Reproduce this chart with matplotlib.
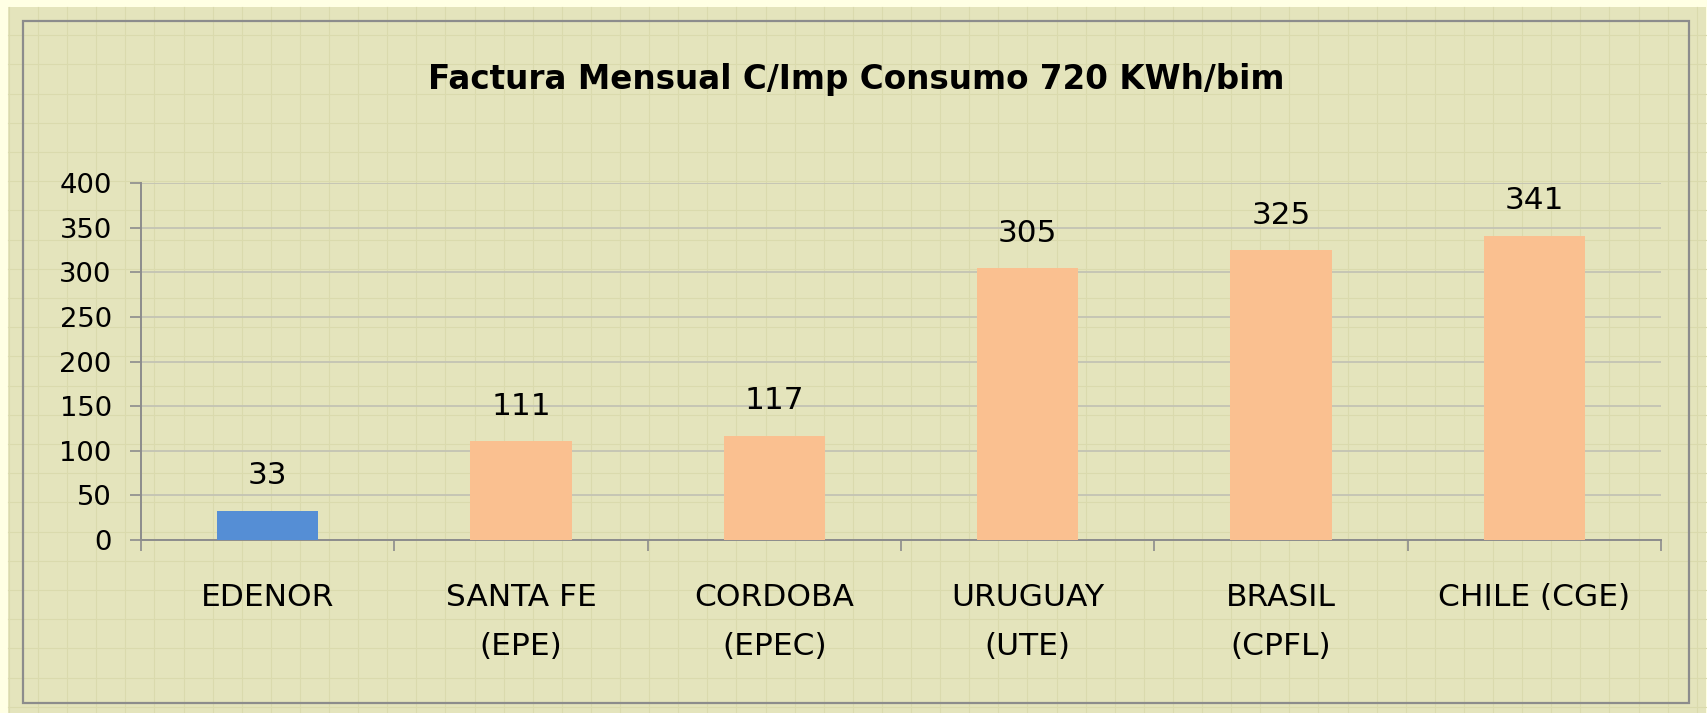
import matplotlib.pyplot as plt
import numpy as np
from matplotlib.patches import Rectangle
from matplotlib.lines import Line2D

# data
categories = ["EDENOR", "SANTA FE\n(EPE)", "CORDOBA\n(EPEC)", "URUGUAY\n(UTE)",
              "BRASIL\n(CPFL)", "CHILE (CGE)"]
values = [33, 111, 117, 305, 325, 341]
bar_colors = ["#558ed5", "#fac090", "#fac090", "#fac090", "#fac090", "#fac090"]
yticks = [0, 50, 100, 150, 200, 250, 300, 350, 400]
title = "Factura Mensual C/Imp Consumo 720 KWh/bim"

W, H = 1708, 713
fig = plt.figure(figsize=(W / 100, H / 100), dpi=100)
fig.patch.set_facecolor("#ffffe4")


def fx(px):
    return px / W


def fy(py):
    return 1 - py / H


# textured background
fig.add_artist(Rectangle((fx(8), 0), fx(1706) - fx(8), fy(7), transform=fig.transFigure,
                         facecolor="#e4e4bc", edgecolor="none", zorder=-10))
for x in np.arange(9, 1706, 29.1):
    fig.add_artist(Line2D([fx(x), fx(x)], [0, fy(7)], transform=fig.transFigure,
                          color="#dadaad", lw=0.8, zorder=-9))
for y in np.arange(6 + 29.2, 713, 29.2):
    fig.add_artist(Line2D([fx(8), fx(1706)], [fy(y), fy(y)], transform=fig.transFigure,
                          color="#dadaad", lw=0.8, zorder=-9))
fig.add_artist(Rectangle((fx(23), fy(703)), fx(1689) - fx(23), fy(21) - fy(703),
                         transform=fig.transFigure, facecolor="none",
                         edgecolor="#8c8c8c", lw=1.6, zorder=-8))

ax = fig.add_axes([fx(141), fy(540), fx(1661) - fx(141), fy(183) - fy(540)])
ax.patch.set_alpha(0)

x = np.arange(len(categories))
ax.bar(x, values, width=0.40, color=bar_colors, zorder=3)
for xi, v in zip(x, values):
    ax.annotate(str(v), (xi, v), xytext=(0, 25), textcoords="offset points",
                ha="center", va="center", fontsize=22.4, color="black")

ax.set_xlim(-0.5, len(categories) - 0.5)
ax.set_ylim(0, 400)
ax.set_yticks(yticks)
ax.tick_params(axis="y", length=8, width=1.2, color="#8c8c8c", pad=13,
               labelsize=19.7)
ax.set_xticks(x)
ax.set_xticklabels(categories, fontsize=22.5, linespacing=1.85)
ax.set_xticks(np.arange(-0.5, len(categories)), minor=True)
ax.tick_params(axis="x", which="major", length=0, pad=31)
ax.tick_params(axis="x", which="minor", length=8, width=1.2, color="#8c8c8c",
               direction="out")
ax.grid(axis="y", color="#c3c3b4", lw=1.3, zorder=0)
for s in ["top", "right"]:
    ax.spines[s].set_visible(False)
for s in ["left", "bottom"]:
    ax.spines[s].set_color("#8c8c8c")
    ax.spines[s].set_linewidth(1.4)

fig.text(fx(856), fy(80), title, ha="center", va="center", fontsize=23.5,
         fontweight="bold")

fig.savefig("out.png", dpi=100, facecolor=fig.get_facecolor())
